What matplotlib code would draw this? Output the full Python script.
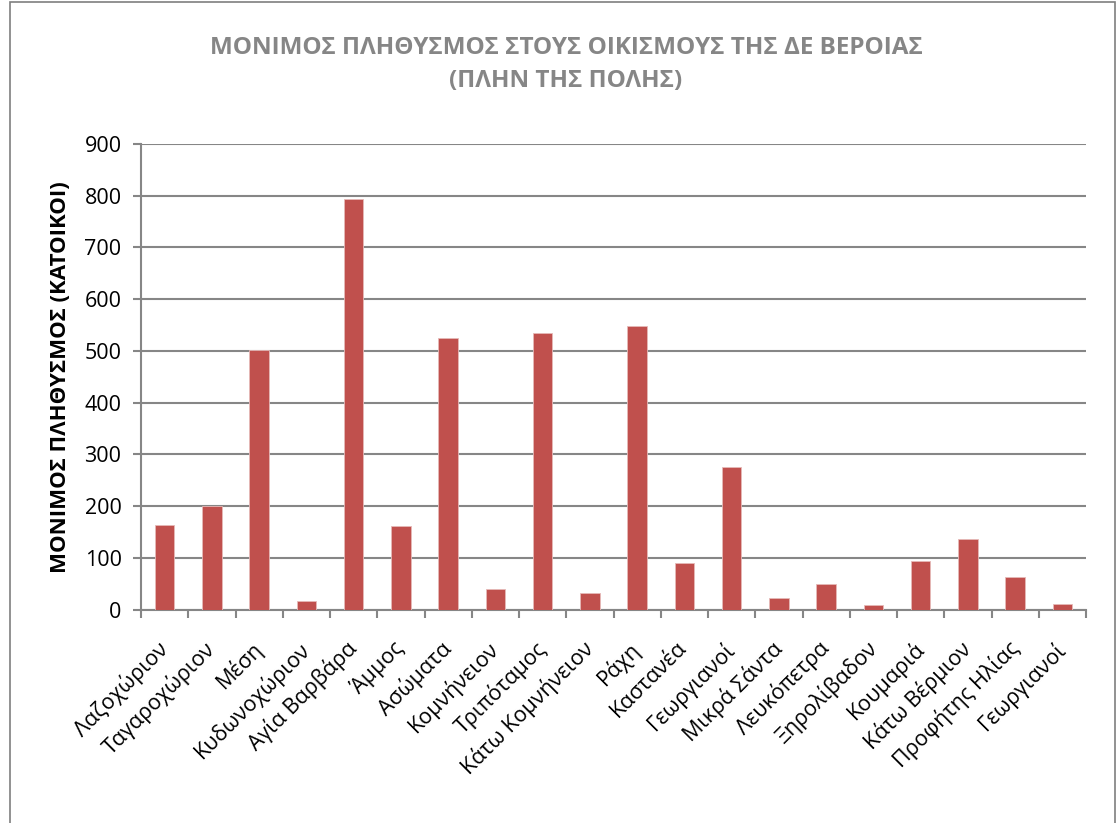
import matplotlib
matplotlib.use("Agg")
import matplotlib.pyplot as plt
from matplotlib.patches import Rectangle
from matplotlib.transforms import ScaledTranslation
import numpy as np

plt.rcParams['font.family'] = ['Open Sans', 'DejaVu Sans']

categories = ["Λαζοχώριον", "Ταγαροχώριον", "Μέση", "Κυδωνοχώριον", "Αγία Βαρβάρα",
              "Άμμος", "Ασώματα", "Κομνήνειον", "Τριπόταμος", "Κάτω Κομνήνειον",
              "Ράχη", "Καστανέα", "Γεωργιανοί", "Μικρά Σάντα", "Λευκόπετρα",
              "Ξηρολίβαδον", "Κουμαριά", "Κάτω Βέρμιον", "Προφήτης Ηλίας", "Γεωργιανοί"]
values = [164, 200, 502, 16, 794, 162, 525, 40, 535, 31,
          548, 89, 275, 23, 49, 9, 94, 137, 63, 10]
yticks = [0, 100, 200, 300, 400, 500, 600, 700, 800, 900]

title = "ΜΟΝΙΜΟΣ ΠΛΗΘΥΣΜΟΣ ΣΤΟΥΣ ΟΙΚΙΣΜΟΥΣ ΤΗΣ ΔΕ ΒΕΡΟΙΑΣ\n(ΠΛΗΝ ΤΗΣ ΠΟΛΗΣ)"
ylabel = "ΜΟΝΙΜΟΣ ΠΛΗΘΥΣΜΟΣ (ΚΑΤΟΙΚΟΙ)"

W, H = 1118, 823
fig = plt.figure(figsize=(W / 100, H / 100), dpi=100)
ax = fig.add_axes([141 / W, 1 - 609.5 / H, (1086 - 141) / W, (609.5 - 144) / H])

grid_c = "#868686"
x = np.arange(len(categories))
ax.bar(x, values, width=0.41, color="#C0504D", edgecolor="#E6B9B8", linewidth=0.6, zorder=3)

ax.set_xlim(-0.5, len(categories) - 0.5)
ax.set_ylim(0, 900)
ax.set_yticks(yticks)
ax.set_yticklabels([str(v) for v in yticks], fontsize=15.5)
ax.yaxis.grid(True, color=grid_c, linewidth=1.5, zorder=0)
ax.set_axisbelow(True)

ax.set_xticks(x)
ax.set_xticklabels(categories, rotation=45, ha="right", va="top",
                   rotation_mode="anchor", fontsize=15.5)
ax.tick_params(axis="x", which="major", length=0, pad=20)
ax.set_xticks(np.arange(-0.5, len(categories)), minor=True)
ax.tick_params(axis="x", which="minor", length=6, width=1.5, color=grid_c, direction="out")
ax.tick_params(axis="y", length=6, width=1.5, color=grid_c, direction="out", pad=8)
off = ScaledTranslation(-8 / 100, 0, fig.dpi_scale_trans)
for lab in ax.get_xticklabels():
    lab.set_transform(lab.get_transform() + off)

for s in ["top", "right"]:
    ax.spines[s].set_visible(False)
for s in ["left", "bottom"]:
    ax.spines[s].set_color(grid_c)
    ax.spines[s].set_linewidth(1.5)

ax.set_ylabel(ylabel, fontsize=16, fontweight="bold", labelpad=10)

fig.text(566 / W, 1 - 64 / H, title, ha="center", va="center", fontsize=17.5,
         fontweight="bold", color="#868686", linespacing=1.5)

fig.patches.append(Rectangle((10 / W, -0.01), (1115 - 10) / W, 1 - 2 / H + 0.01,
                             transform=fig.transFigure, fill=False,
                             edgecolor="#7F7F7F", linewidth=1.2))

fig.savefig("out.png", dpi=100)
